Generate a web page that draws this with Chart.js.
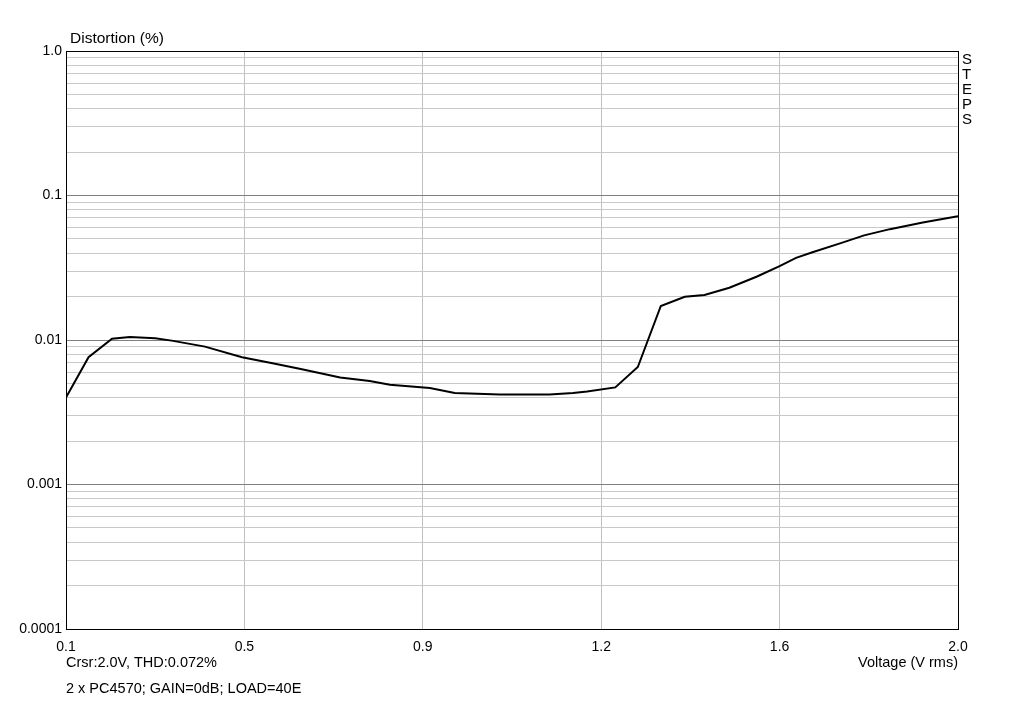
<!DOCTYPE html>
<html>
<head>
<meta charset="utf-8">
<script src="https://cdn.jsdelivr.net/npm/chart.js@4.4.1/dist/chart.umd.min.js"></script>
<style>
  html, body { margin: 0; padding: 0; background: #fff; }
  #wrap { width: 1024px; height: 701px; }
</style>
</head>
<body>
<div id="wrap"><canvas id="c"></canvas></div>
<script>
// voltage (V rms) and THD (%)
const voltage = [0.10, 0.148, 0.198, 0.236, 0.29, 0.325, 0.396, 0.475, 0.54, 0.60, 0.684, 0.747, 0.79,
  0.875, 0.928, 1.024, 1.13, 1.18, 1.21, 1.27, 1.318, 1.367, 1.418, 1.46, 1.513, 1.572, 1.62,
  1.655, 1.69, 1.752, 1.80, 1.855, 1.925, 2.0];
const thd = [0.0040, 0.0076, 0.0102, 0.0105, 0.0103, 0.0099, 0.0090, 0.0076, 0.0069, 0.0063, 0.0055, 0.0052, 0.0049,
  0.00465, 0.0043, 0.0042, 0.0042, 0.0043, 0.0044, 0.0047, 0.0065, 0.0172, 0.0199, 0.0205, 0.0230, 0.0275, 0.0325,
  0.0370, 0.0405, 0.0470, 0.0530, 0.0585, 0.0650, 0.0720];

const xTicks = [0.1, 0.48, 0.86, 1.24, 1.62, 2.0];
const yDecades = [0.0001, 0.001, 0.01, 0.1, 1];
const yLabels = ["0.0001", "0.001", "0.01", "0.1", "1.0"];

const FONT = "'Liberation Sans', Arial, sans-serif";

// log ticks 1..9 per decade
const yTicks = [];
for (let d = 0; d < yDecades.length - 1; d++) {
  for (let k = 1; k <= 9; k++) yTicks.push(+(yDecades[d] * k).toPrecision(3));
}
yTicks.push(1);

const frame = {
  id: "frame",
  afterDraw(chart) {
    const { ctx, chartArea: a } = chart;
    ctx.save();
    ctx.strokeStyle = "#000";
    ctx.lineWidth = 1;
    ctx.strokeRect(Math.round(a.left) + 0.5, Math.round(a.top) + 0.5,
      Math.round(a.right - a.left), Math.round(a.bottom - a.top));
    ctx.fillStyle = "#000";
    ctx.textBaseline = "middle";
    ctx.textAlign = "left";
    ctx.font = "15.5px " + FONT;
    ctx.fillText("Distortion (%)", 70, 39);
    ctx.font = "14.5px " + FONT;
    ctx.fillText("Crsr:2.0V, THD:0.072%", 66, 663);
    ctx.fillText("2 x PC4570; GAIN=0dB; LOAD=40E", 66, 689);
    ctx.textAlign = "right";
    ctx.fillText("Voltage (V rms)", 958, 663);
    ctx.textAlign = "left";
    ctx.font = "15px " + FONT;
    "STEPS".split("").forEach((ch, i) => ctx.fillText(ch, 962, 60 + i * 15));
    ctx.restore();
  }
};

new Chart(document.getElementById("c"), {
  type: "line",
  data: {
    datasets: [{
      data: voltage.map((v, i) => ({ x: v, y: thd[i] })),
      borderColor: "#000",
      borderWidth: 2,
      pointRadius: 0,
      tension: 0,
      fill: false
    }]
  },
  options: {
    responsive: true,
    maintainAspectRatio: false,
    animation: false,
    layout: { padding: { left: 0, right: 66, top: 51, bottom: 0 } },
    plugins: { legend: { display: false }, tooltip: { enabled: false } },
    scales: {
      x: {
        type: "linear",
        min: 0.1,
        max: 2.0,
        afterBuildTicks: s => { s.ticks = xTicks.map(v => ({ value: v })); },
        afterFit: s => { s.height = 72; },
        grid: { color: "#c0c0c0", drawTicks: false },
        border: { display: false },
        ticks: {
          autoSkip: false,
          maxRotation: 0,
          padding: 10,
          color: "#000",
          font: { family: FONT, size: 14 },
          callback: v => v.toFixed(1)
        }
      },
      y: {
        type: "logarithmic",
        min: 0.0001,
        max: 1,
        afterBuildTicks: s => { s.ticks = yTicks.map(v => ({ value: v })); },
        afterFit: s => { s.width = 66; },
        grid: {
          drawTicks: false,
          color: c => {
            const i = yDecades.indexOf(c.tick ? c.tick.value : -1);
            return i >= 0 ? "#808080" : "#c8c8c8";
          }
        },
        border: { display: false },
        ticks: {
          autoSkip: false,
          padding: 4,
          color: "#000",
          font: { family: FONT, size: 14 },
          callback: v => {
            const i = yDecades.findIndex(d => Math.abs(d - v) / d < 1e-6);
            return i >= 0 ? yLabels[i] : "";
          }
        }
      }
    }
  },
  plugins: [frame]
});
</script>
</body>
</html>
